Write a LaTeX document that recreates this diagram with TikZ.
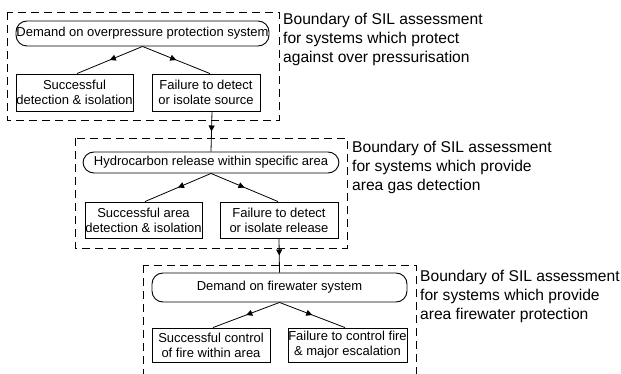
\documentclass[tikz,border=0pt]{standalone}
\usepackage{fontspec}
\setmainfont{Liberation Sans}
\usetikzlibrary{decorations.markings,arrows.meta}
\tikzset{
  boundary/.style={draw, dashed, dash pattern=on 8pt off 5pt, line width=0.9pt},
  event/.style={draw, line width=0.9pt, rounded corners=11pt, inner sep=0pt, font=\fontsize{13}{15}\selectfont},
  outcome/.style={draw, line width=0.9pt, inner sep=0pt, align=center, font=\fontsize{13}{15}\selectfont},
  note/.style={anchor=base west, align=left, inner sep=0pt, font=\fontsize{15.6}{19}\selectfont},
  midarrow/.style={line width=0.8pt, postaction={decorate}, decoration={markings, mark=at position 0.5 with {\arrow{Triangle[length=6pt,width=6pt]}}}}
}
\begin{document}
\begin{tikzpicture}[x=1pt,y=-1pt]
\useasboundingbox (0,0) rectangle (621,374);
\clip (0,0) rectangle (621,374);
% boundaries
\draw[boundary] (7,12) rectangle (279,120);
\draw[boundary] (75,138) rectangle (347,248);
\draw[boundary] (143,265) rectangle (416,385);
% group 1
\node[event, minimum width=253pt, minimum height=25pt] (e1) at (142.5,33.5) {Demand on overpressure protection system};
\node[outcome, minimum width=117pt, minimum height=37pt] (s1) at (74.5,92.5) {Successful\\detection \& isolation};
\node[outcome, minimum width=108pt, minimum height=37pt] (f1) at (206,92.5) {Failure to detect\\or isolate source};
% group 2
\node[event, minimum width=256pt, minimum height=21pt] (e2) at (211,162.5) {Hydrocarbon release within specific area};
\node[outcome, minimum width=117pt, minimum height=36pt] (s2) at (143.5,220) {Successful area\\detection \& isolation};
\node[outcome, minimum width=118pt, minimum height=36pt] (f2) at (279,220) {Failure to detect\\or isolate release};
% group 3
\node[event, minimum width=255pt, minimum height=29pt] (e3) at (279.5,287.5) {Demand on firewater system};
\node[outcome, minimum width=118pt, minimum height=34pt] (s3) at (211,345) {Successful control\\of fire within area};
\node[outcome, minimum width=119pt, minimum height=34pt] (f3) at (347.5,345) {Failure to control fire\\\& major escalation};
% labels
\node[note] (n1) at (283,63) {Boundary of SIL assessment\\for systems which protect\\against over pressurisation};
\node[note] (n2) at (352,191) {Boundary of SIL assessment\\for systems which provide\\area gas detection};
\node[note] (n3) at (420,319) {Boundary of SIL assessment\\for systems which provide\\area firewater protection};
% connectors
\draw[midarrow] (e1.south) -- ([xshift=2.5pt]s1.north);
\draw[midarrow] (e1.south) -- ([xshift=4pt]f1.north);
\draw[midarrow] ([xshift=6pt]f1.south) -- (e2.north);
\draw[midarrow] (e2.south) -- ([xshift=1.5pt]s2.north);
\draw[midarrow] (e2.south) -- ([xshift=-1pt]f2.north);
\draw[midarrow] (f2.south) -- (e3.north);
\draw[midarrow] (e3.south) -- ([xshift=2pt]s3.north);
\draw[midarrow] (e3.south) -- ([xshift=-2.5pt]f3.north);
\end{tikzpicture}
\end{document}
